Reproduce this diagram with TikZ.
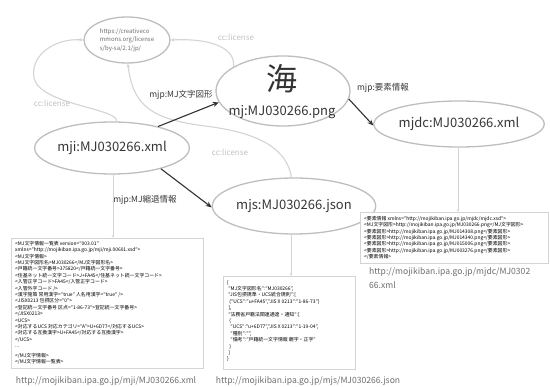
\documentclass[tikz,border=0pt]{standalone}
\usepackage{fontspec}
\setmainfont{Noto Sans CJK JP}
\usetikzlibrary{shapes.geometric,arrows.meta}
\definecolor{ellc}{RGB}{190,190,190}
\definecolor{darkc}{RGB}{50,50,50}
\definecolor{lightc}{RGB}{212,212,212}
\definecolor{cclab}{RGB}{195,195,195}
\definecolor{capc}{RGB}{110,110,110}
\definecolor{txtc}{RGB}{55,55,55}
\tikzset{
  res/.style={ellipse, draw=ellc, line width=1.3pt, inner sep=0pt, fill=white, text=txtc, font=\fontsize{13}{15}\selectfont},
  darr/.style={draw=darkc, line width=1.1pt, -{Stealth[length=6pt,width=5pt]}},
  garr/.style={draw=lightc, line width=1.1pt, -{Stealth[length=4pt,width=3.5pt]}},
  varr/.style={draw=lightc, line width=0.7pt, -{Stealth[length=3pt,width=2.5pt]}},
  plab/.style={text=txtc, font=\fontsize{8.5}{10}\selectfont, inner sep=1pt},
  cclabel/.style={text=cclab, font=\fontsize{8}{10}\selectfont, inner sep=1pt},
  databox/.style={draw=lightc, line width=0.7pt, fill=white, anchor=north west, inner sep=0pt},
  boxtext/.style={anchor=north west, align=left, inner sep=0pt, text=black, font=\fontsize{4.9}{6.4}\selectfont},
  caption/.style={text=capc, font=\fontsize{8.6}{14}\selectfont, inner sep=0pt}
}
\begin{document}
\begin{tikzpicture}[x=1pt,y=-1pt]
\useasboundingbox[fill=white] (0,0) rectangle (550,387);

% resources
\node[res, minimum width=86, minimum height=46, font=\fontsize{6}{8.5}\selectfont, align=left, text=capc] (lic) at (127,40) {https://creativeco\\mmons.org/license\\s/by-sa/2.1/jp/};
\node[res, minimum width=134, minimum height=70] (png) at (283,91) {};
\node[text=darkc, font=\fontsize{31}{31}\selectfont, inner sep=0pt] (kai) at (282,79) {海};
\node[text=txtc, font=\fontsize{13}{15}\selectfont, inner sep=0pt] (pnglab) at (282,112) {mj:MJ030266.png};
\node[res, minimum width=132, minimum height=46] (mjdc) at (459,124) {mjdc:MJ030266.xml};
\node[res, minimum width=130, minimum height=52] (mji) at (112,148) {mji:MJ030266.xml};
\node[res, minimum width=132, minimum height=56] (mjs) at (294,206) {mjs:MJ030266.json};

% cc:license connectors
\draw[garr] (mji.80) .. controls (118,108) and (40,105) .. (34,78) .. controls (30,55) and (55,38) .. (lic.west);
\draw[garr] (png.154) .. controls (236,50) and (215,38) .. (lic.east);
\draw[garr] (mjs.95) .. controls (287,150) and (262,133) .. (205,126) .. controls (150,119) and (133,105) .. (lic.272);
\node[cclabel] (cc1) at (52,103) {cc:license};
\node[cclabel] (cc2) at (236,37) {cc:license};
\node[cclabel] (cc3) at (230,152) {cc:license};

% property arrows
\draw[darr] (mji.25) -- (png.190);
\draw[darr] (png.353) -- (mjdc.181);
\draw[darr] (mji.337) -- (mjs.181);
\node[plab] (p1) at (181,95) {mjp:MJ文字図形};
\node[plab] (p2) at (383,88) {mjp:要素情報};
\node[plab] (p3) at (145,200) {mjp:MJ縮退情報};

% data boxes
\node[databox, minimum width=192, minimum height=130] (box1) at (11,238) {};
\node[boxtext] (t1) at (15,241) {<MJ文字情報一覧表 version="003.01"\\
xmlns="http://mojikiban.ipa.go.jp/mji/mji.00601.xsd">\\
<MJ文字情報>\\
<MJ文字図形名>MJ030266</MJ文字図形名>\\
<戸籍統一文字番号>375820</戸籍統一文字番号>\\
<住基ネット統一文字コード>J+FA45</住基ネット統一文字コード>\\
<入管正字コード>FA45</入管正字コード>\\
<入管外字コード />\\
<漢字施策 常用漢字="true" 人名用漢字="true" />\\
<JISX0213 包摂区分="0">\\
<登記統一文字番号 区点="1-86-73">登記統一文字番号>\\
</JISX0213>\\
<UCS>\\
<対応するUCS 対応カテゴリ="A">U+6D77</対応するUCS>\\
<対応する互換漢字>U+FA45</対応する互換漢字>\\
</UCS>\\
...\\[3pt]
</MJ文字情報>\\
</MJ文字情報一覧表>};

\node[databox, minimum width=132, minimum height=93] (box2) at (223,276) {};
\node[boxtext] (t2) at (227,280) {\{\\
\ "MJ文字図形名":"MJ030266",\\
\ "JIS包摂規準・UCS統合規則":[\\
\ \ \{"UCS":"u+FA45","JIS X 0213":"1-86-73"\}\\
\ ],\\
\ "法務省戸籍法関連通達・通知":[\\
\ \ \{\\
\ \ \ "UCS":"u+6D77","JIS X 0213":"1-19-04",\\
\ \ \ "種別":"",\\
\ \ \ "備考":"戸籍統一文字情報 親字・正字"\\
\ \ \}\\
\ ]\\
\}};

\node[databox, minimum width=188, minimum height=51] (box3) at (360,212) {};
\node[boxtext] (t3) at (364,216) {<要素情報 xmlns="http://mojikiban.ipa.go.jp/mjdc/mjdc.xsd">\\
<MJ文字図形>http://mojikiban.ipa.go.jp/MJ030266.png</MJ文字図形>\\
<要素図形>http://mojikiban.ipa.go.jp/MJ014308.png</要素図形>\\
<要素図形>http://mojikiban.ipa.go.jp/MJ014340.png</要素図形>\\
<要素図形>http://mojikiban.ipa.go.jp/MJ015006.png</要素図形>\\
<要素図形>http://mojikiban.ipa.go.jp/MJ003276.png</要素図形>\\
</要素情報>};

% links to boxes
\draw[varr] (mji.south -| 113,0) -- (113,0 |- box1.north);
\draw[varr] (mjs.south -| 291,0) -- (291,0 |- box2.north);
\draw[varr] (mjdc.south -| 458,0) -- (458,0 |- box3.north);

% captions
\node[caption] (c1) at (106,381) {http://mojikiban.ipa.go.jp/mji/MJ030266.xml};
\node[caption] (c2) at (308,381) {http://mojikiban.ipa.go.jp/mjs/MJ030266.json};
\node[caption, anchor=north west, align=left] (c3) at (369,267) {http://mojikiban.ipa.go.jp/mjdc/MJ0302\\66.xml};
\end{tikzpicture}
\end{document}
